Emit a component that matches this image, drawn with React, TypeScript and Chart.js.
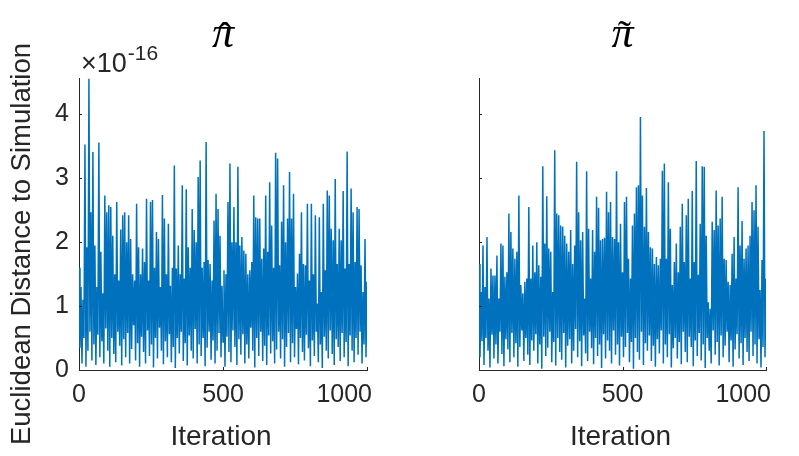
import React, { useEffect, useRef } from "react";
import { Chart, registerables } from "chart.js";
Chart.register(...registerables);

const xTicks = [0, 500, 1000];
const xTickLabels = ["0", "500", "1000"];
const yTicks = [0, 1, 2, 3, 4];
const yMax = 4.57; // in units of 1e-16
const titleSymbol = "\u03C0";
const titleAccents = ["\u02C6", "\u02DC"]; // hat, tilde
const xLabel = "Iteration";
const yLabel = "Euclidean Distance to Simulation";
const expBase = "\u00D710";
const expPower = "-16";

// pi-hat panel: local peaks / troughs read across the 1000 iterations (x1e-16)
const piHatPeaks = [
  1.6, 1.3, 1.1, 3.53, 1.92, 4.56, 2.47, 3.41, 1.95, 1.3,
  3.56, 1.85, 1.2, 2.73, 2.47, 2.58, 2.55, 2.1, 1.5, 2.63,
  1.4, 2.2, 2.42, 2.47, 2.0, 2.42, 2.05, 1.5, 1.4, 2.6,
  1.92, 1.5, 1.9, 1.69, 2.68, 1.4, 2.63, 2.66, 1.6, 2.16,
  2.05, 1.3, 2.74, 2.37, 1.5, 2.29, 1.32, 1.6, 3.2, 1.59,
  1.95, 1.5, 2.89, 1.43, 2.83, 1.92, 1.6, 2.52, 2.19, 2.0,
  3.02, 3.28, 1.6, 1.69, 3.57, 1.72, 1.66, 1.4, 2.34, 2.76,
  2.52, 2.1, 1.32, 1.56, 1.5, 2.63, 3.23, 2.0, 2.55, 2.0,
  3.18, 1.95, 2.08, 1.87, 1.82, 1.5, 1.56, 1.69, 2.73, 2.39,
  2.37, 2.37, 1.74, 1.9, 2.73, 1.85, 2.94, 2.26, 1.6, 3.4,
  3.31, 1.64, 2.32, 2.89, 2.0, 2.37, 3.1, 2.37, 2.76, 1.3,
  1.51, 1.82, 2.47, 1.66, 1.64, 2.6, 1.4, 2.6, 1.5, 2.42,
  1.04, 2.39, 1.22, 2.6, 1.56, 2.81, 2.73, 2.21, 2.03, 2.99,
  1.66, 2.21, 2.03, 2.8, 1.59, 3.42, 1.66, 2.84, 2.47, 1.69,
  2.55, 2.52, 1.64, 1.22, 2.05, 1.38,
];
const piHatTroughs = [
  0.35, 0.1, 0.5, 0.05, 0.3, 0.6, 0.15, 0.4, 0.08, 0.55,
  0.2, 0.45, 0.1, 0.65, 0.3, 0.05, 0.5, 0.25, 0.12, 0.6,
  0.38, 0.07, 0.48, 0.2, 0.58, 0.1, 0.33, 0.7, 0.15, 0.42,
  0.05, 0.52, 0.28, 0.1, 0.62, 0.22, 0.4, 0.04, 0.5, 0.18,
  0.66, 0.3, 0.09, 0.45, 0.2, 0.56, 0.12, 0.36, 0.03, 0.5,
  0.26, 0.6, 0.14, 0.42, 0.07, 0.54, 0.3, 0.18, 0.64, 0.1,
  0.4, 0.22, 0.5, 0.06, 0.35, 0.6, 0.16, 0.46, 0.1, 0.3,
  0.58, 0.2, 0.44, 0.05, 0.52, 0.28, 0.12, 0.62, 0.36, 0.08,
  0.48, 0.24, 0.56, 0.1, 0.4, 0.18, 0.66, 0.3, 0.04, 0.5,
  0.22, 0.6, 0.14, 0.38, 0.08, 0.54, 0.26, 0.45, 0.1, 0.32,
  0.6, 0.18, 0.48, 0.05, 0.36, 0.58, 0.12, 0.42, 0.2, 0.64,
  0.09, 0.5, 0.28, 0.15, 0.55, 0.34, 0.06, 0.46, 0.22, 0.6,
  0.12, 0.4, 0.03, 0.52, 0.3, 0.18, 0.62, 0.25, 0.08, 0.48,
  0.36, 0.14, 0.58, 0.2, 0.44, 0.06, 0.54, 0.3, 0.12, 0.5,
  0.24, 0.6, 0.1, 0.4, 0.2,
];

// pi-tilde panel
const piTildePeaks = [
  1.66, 1.22, 1.95, 1.3, 2.08, 1.12, 1.59, 1.48, 1.48, 1.79,
  1.12, 1.98, 1.95, 1.46, 1.53, 2.45, 2.16, 1.9, 1.74, 1.85,
  2.73, 1.33, 1.2, 1.38, 1.43, 2.55, 1.43, 1.95, 1.53, 2.0,
  1.64, 1.46, 3.19, 1.98, 2.72, 1.9, 1.85, 1.22, 3.44, 2.45,
  2.42, 2.26, 2.24, 2.1, 1.98, 1.85, 2.19, 1.66, 1.95, 3.26,
  2.47, 2.03, 2.16, 1.12, 3.11, 2.21, 1.43, 2.19, 1.85, 2.71,
  2.54, 2.03, 2.05, 2.07, 2.79, 2.47, 2.63, 2.08, 2.05, 3.11,
  2.0, 2.29, 1.53, 2.63, 2.71, 1.74, 1.43, 2.26, 2.45, 2.86,
  2.89, 3.96, 2.73, 2.24, 2.85, 2.16, 1.92, 1.9, 1.66, 1.77,
  1.64, 1.74, 3.12, 3.23, 1.74, 2.94, 2.21, 1.33, 1.69, 1.98,
  1.53, 2.24, 2.6, 1.69, 2.42, 2.68, 1.43, 2.8, 1.69, 3.27,
  1.49, 2.29, 3.19, 3.18, 2.1, 1.06, 0.96, 2.32, 2.19, 2.81,
  2.26, 2.37, 2.71, 1.74, 1.72, 1.38, 1.33, 1.82, 2.08, 1.43,
  2.86, 1.95, 2.33, 1.74, 1.9, 1.95, 2.1, 2.63, 2.5, 2.89,
  2.24, 1.25, 1.72, 3.74, 1.43,
];
const piTildeTroughs = [
  0.2, 0.45, 0.08, 0.5, 0.3, 0.04, 0.55, 0.18, 0.4, 0.1,
  0.6, 0.25, 0.06, 0.48, 0.32, 0.12, 0.58, 0.2, 0.42, 0.05,
  0.36, 0.62, 0.14, 0.5, 0.24, 0.08, 0.46, 0.3, 0.56, 0.1,
  0.4, 0.02, 0.52, 0.22, 0.35, 0.6, 0.12, 0.44, 0.07, 0.5,
  0.28, 0.16, 0.58, 0.04, 0.38, 0.48, 0.1, 0.3, 0.64, 0.2,
  0.45, 0.06, 0.54, 0.26, 0.14, 0.6, 0.34, 0.09, 0.5, 0.22,
  0.4, 0.03, 0.56, 0.18, 0.46, 0.3, 0.1, 0.62, 0.24, 0.4,
  0.07, 0.52, 0.2, 0.36, 0.58, 0.12, 0.44, 0.02, 0.5, 0.28,
  0.16, 0.6, 0.08, 0.42, 0.3, 0.54, 0.14, 0.38, 0.05, 0.48,
  0.26, 0.62, 0.1, 0.4, 0.2, 0.56, 0.04, 0.34, 0.5, 0.18,
  0.44, 0.09, 0.6, 0.28, 0.12, 0.52, 0.36, 0.06, 0.46, 0.22,
  0.58, 0.15, 0.4, 0.03, 0.5, 0.3, 0.1, 0.62, 0.24, 0.44,
  0.07, 0.54, 0.2, 0.38, 0.6, 0.12, 0.46, 0.05, 0.32, 0.56,
  0.18, 0.42, 0.08, 0.5, 0.28, 0.14, 0.6, 0.22, 0.4, 0.1,
  0.48, 0.04, 0.36, 0.2,
];

const LINE_COLOR = "#0072BD";
const AXIS_COLOR = "#262626";
const SANS = '"Liberation Sans", Arial, sans-serif';

function buildSeries(peaks: number[], troughs: number[]) {
  const vals: number[] = [];
  for (let k = 0; k < peaks.length; k++) {
    vals.push(peaks[k]);
    if (k < troughs.length) vals.push(troughs[k]);
  }
  const n = vals.length;
  return vals.map((v, i) => ({ x: (i * 1000) / (n - 1), y: v }));
}

function decorPlugin(panel: number) {
  return {
    id: "decor" + panel,
    afterDraw(chart: any) {
      const ctx = chart.ctx;
      const { left, right, bottom } = chart.chartArea;
      const xs = chart.scales.x;
      const ys = chart.scales.y;
      ctx.save();
      ctx.strokeStyle = AXIS_COLOR;
      ctx.lineWidth = 1;
      ctx.beginPath();
      yTicks.forEach((v) => {
        const y = Math.round(ys.getPixelForValue(v)) + 0.5;
        ctx.moveTo(left, y);
        ctx.lineTo(left + 3, y);
      });
      xTicks.forEach((v) => {
        const x = Math.round(xs.getPixelForValue(v)) + 0.5;
        ctx.moveTo(x, bottom);
        ctx.lineTo(x, bottom - 3);
      });
      ctx.stroke();

      // x tick labels
      ctx.fillStyle = AXIS_COLOR;
      ctx.font = "25px " + SANS;
      ctx.textBaseline = "alphabetic";
      xTicks.forEach((v, i) => {
        const x = xs.getPixelForValue(v);
        if (i === xTicks.length - 1) {
          ctx.textAlign = "right";
          ctx.fillText(xTickLabels[i], x + 5, 402);
        } else {
          ctx.textAlign = "center";
          ctx.fillText(xTickLabels[i], x, 402);
        }
      });

      const cx = (left + right) / 2;
      ctx.fillStyle = "#000";
      ctx.textAlign = "center";
      ctx.textBaseline = "alphabetic";
      ctx.font = 'italic 44px "Liberation Serif", serif';
      ctx.fillText(titleSymbol, cx, 47);
      ctx.font = '40px "Liberation Serif", serif';
      ctx.fillText(titleAccents[panel], cx + 2, panel === 0 ? 50 : 48);

      ctx.fillStyle = AXIS_COLOR;
      ctx.font = "28px " + SANS;
      ctx.textBaseline = "middle";
      ctx.fillText(xLabel, cx - 2, 437);

      if (panel === 0) {
        ctx.save();
        ctx.translate(22, 244);
        ctx.rotate(-Math.PI / 2);
        ctx.font = "27.5px " + SANS;
        ctx.fillText(yLabel, 0, 0);
        ctx.restore();

        ctx.textAlign = "left";
        ctx.textBaseline = "alphabetic";
        ctx.font = "27px " + SANS;
        ctx.fillText(expBase, 81, 72);
        const w = ctx.measureText(expBase).width;
        ctx.font = "21px " + SANS;
        ctx.fillText(expPower, 81 + w + 1, 60);
      }
      ctx.restore();
    },
  };
}

function makeConfig(panel: number, peaks: number[], troughs: number[], width: number): any {
  const rightEdge = panel === 0 ? 367 : 366;
  return {
    type: "line",
    data: {
      datasets: [
        {
          data: buildSeries(peaks, troughs),
          borderColor: LINE_COLOR,
          borderWidth: 1.5,
          pointRadius: 0,
          tension: 0,
          fill: false,
        },
      ],
    },
    options: {
      animation: false,
      responsive: false,
      maintainAspectRatio: false,
      events: [],
      layout: { padding: { top: 78, right: width - rightEdge, left: 0, bottom: 0 } },
      plugins: { legend: { display: false }, tooltip: { enabled: false }, title: { display: false } },
      scales: {
        x: {
          type: "linear",
          min: 0,
          max: 1000,
          afterBuildTicks: (s: any) => {
            s.ticks = xTicks.map((v) => ({ value: v }));
          },
          afterFit: (s: any) => {
            s.height = 456 - 370;
            s.paddingLeft = 0;
            s.paddingRight = 0;
          },
          grid: { display: false, drawTicks: false },
          border: { display: true, color: AXIS_COLOR, width: 1 },
          ticks: { display: false },
        },
        y: {
          type: "linear",
          min: 0,
          max: yMax,
          afterBuildTicks: (s: any) => {
            s.ticks = yTicks.map((v) => ({ value: v }));
          },
          afterFit: (s: any) => {
            s.width = 79;
            s.paddingTop = 0;
            s.paddingBottom = 0;
          },
          grid: { display: false, drawTicks: false },
          border: { display: true, color: AXIS_COLOR, width: 1 },
          ticks: {
            display: panel === 0,
            color: AXIS_COLOR,
            font: { family: SANS, size: 25 },
            padding: 10,
            autoSkip: false,
            callback: (v: any) => String(v),
          },
        },
      },
    },
    plugins: [decorPlugin(panel)],
  };
}

function Panel(props: { panel: number; left: number; width: number; peaks: number[]; troughs: number[] }) {
  const ref = useRef<HTMLCanvasElement | null>(null);
  useEffect(() => {
    if (!ref.current) return;
    const chart = new Chart(ref.current, makeConfig(props.panel, props.peaks, props.troughs, props.width));
    return () => chart.destroy();
  }, []);
  return (
    <canvas
      ref={ref}
      width={props.width}
      height={456}
      style={{ position: "absolute", left: props.left, top: 0, width: props.width, height: 456 }}
    />
  );
}

export default function App() {
  return (
    <div style={{ position: "fixed", left: 0, top: 0, width: 799, height: 456, background: "#fff", overflow: "hidden" }}>
      <Panel panel={0} left={0} width={400} peaks={piHatPeaks} troughs={piHatTroughs} />
      <Panel panel={1} left={400} width={399} peaks={piTildePeaks} troughs={piTildeTroughs} />
    </div>
  );
}
